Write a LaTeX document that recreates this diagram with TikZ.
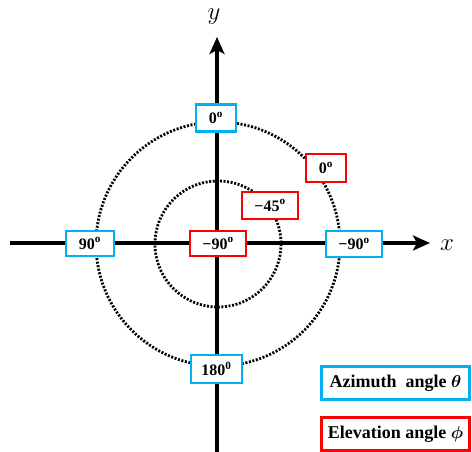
\documentclass[tikz,border=0pt]{standalone}
\usepackage{fontspec}
\setmainfont{Liberation Serif}
\usetikzlibrary{arrows.meta}
\definecolor{azblue}{RGB}{0,176,240}
\definecolor{elred}{RGB}{255,0,0}
\tikzset{
  axisline/.style={line width=3.6pt,-{Stealth[length=17pt,width=15pt,inset=4pt]}},
  dotcirc/.style={line width=2.8pt,dash pattern=on 2pt off 1.6pt},
  azbox/.style={draw=azblue,line width=2.3pt,fill=white,inner sep=0pt,font=\fontsize{16}{16}\selectfont\bfseries},
  elbox/.style={draw=elred,line width=2.3pt,fill=white,inner sep=0pt,font=\fontsize{16}{16}\selectfont\bfseries},
  legbox/.style={line width=2.3pt,fill=white,inner sep=0pt,minimum width=148pt,minimum height=33pt,font=\fontsize{18}{18}\selectfont\bfseries},
  axlab/.style={inner sep=0pt,font=\fontsize{25}{25}\selectfont}
}
\begin{document}
\begin{tikzpicture}[x=1pt,y=-1pt]
\useasboundingbox (0,0) rectangle (472,452);
\coordinate (O) at (218,244);
\coordinate (ybot) at (217,452);
\coordinate (ytop) at (217,37);
\coordinate (xleft) at (10,243);
\coordinate (xright) at (430,243);
\draw[axisline] (ybot) -- (ytop);
\draw[axisline] (xleft) -- (xright);
\node[axlab] (ylab) at (214,17) {$y$};
\node[axlab] (xlab) at (447,245) {$x$};
\draw[dotcirc] (O) circle[radius=122];
\draw[dotcirc] (O) circle[radius=63];
\node[azbox,minimum width=40pt,minimum height=27pt] (a0) at (216,118) {0\textsuperscript{o}};
\node[azbox,minimum width=48pt,minimum height=25pt] (a90) at (90,243.5) {90\textsuperscript{o}};
\node[azbox,minimum width=56pt,minimum height=26pt] (am90) at (354,244) {−90\textsuperscript{o}};
\node[azbox,minimum width=51pt,minimum height=28pt] (a180) at (216.5,369) {180\textsuperscript{0}};
\node[elbox,minimum width=40pt,minimum height=28pt] (e0) at (326,168) {0\textsuperscript{o}};
\node[elbox,minimum width=56pt,minimum height=27pt] (e45) at (270,205.5) {−45\textsuperscript{o}};
\node[elbox,minimum width=56pt,minimum height=25pt] (e90) at (218,243.5) {−90\textsuperscript{o}};
\node[legbox,draw=azblue] (legaz) at (395.5,383) {Azimuth\ \ angle {\boldmath$\theta$}};
\node[legbox,draw=elred] (legel) at (395.5,434) {Elevation angle {\boldmath$\phi$}};
\end{tikzpicture}
\end{document}
